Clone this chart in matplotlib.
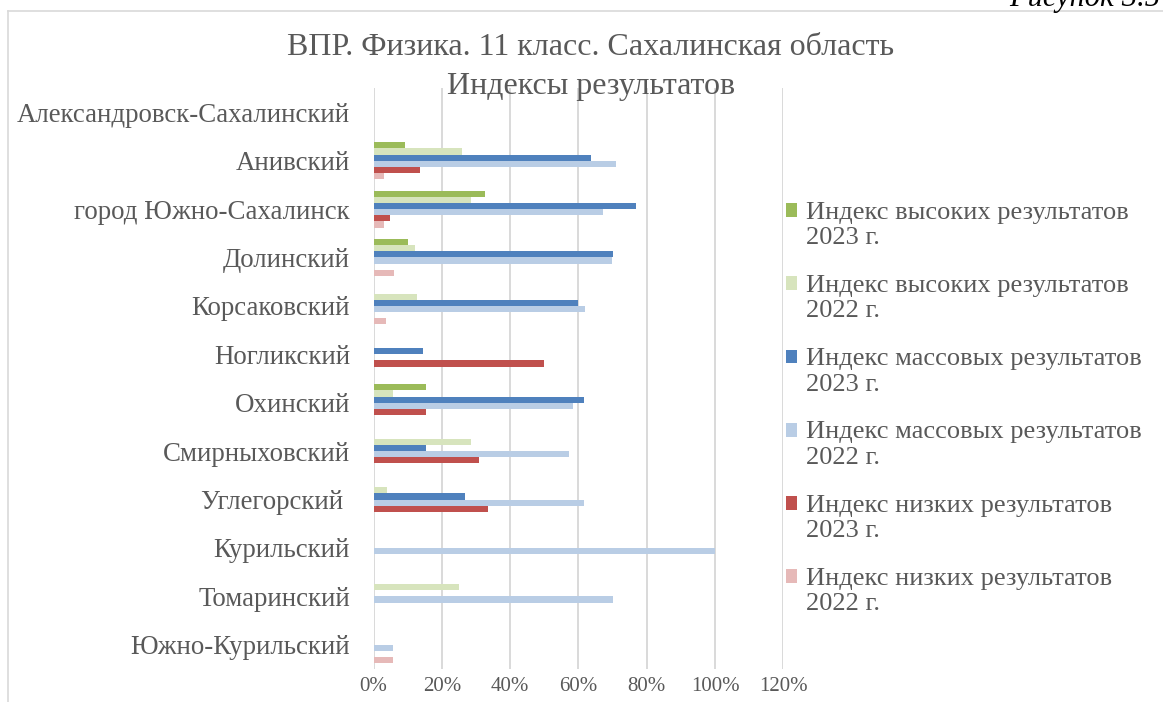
import numpy as np
import matplotlib.pyplot as plt
from matplotlib.lines import Line2D
from matplotlib.patches import Rectangle
from matplotlib.container import BarContainer
from matplotlib.legend_handler import HandlerPatch, update_from_first_child

plt.rcParams['font.family'] = ['Liberation Serif', 'DejaVu Serif']

districts = ["Александровск-Сахалинский", "Анивский", "город Южно-Сахалинск",
             "Долинский", "Корсаковский", "Ногликский", "Охинский",
             "Смирныховский", "Углегорский ", "Курильский", "Томаринский",
             "Южно-Курильский"]

series_names = ["Индекс высоких результатов\n2023 г.",
                "Индекс высоких результатов\n2022 г.",
                "Индекс массовых результатов\n2023 г.",
                "Индекс массовых результатов\n2022 г.",
                "Индекс низких результатов\n2023 г.",
                "Индекс низких результатов\n2022 г."]

# values in %, order follows districts
high_2023 = [0, 9.2, 32.6, 10.0, 0, 0, 15.5, 0, 0, 0, 0, 0]
high_2022 = [0, 25.8, 28.5, 12.0, 12.8, 0, 5.7, 28.5, 3.9, 0, 25.0, 0]
mass_2023 = [0, 63.7, 76.7, 70.0, 60.0, 14.4, 61.5, 15.5, 26.8, 0, 0, 0]
mass_2022 = [0, 70.9, 67.2, 69.7, 61.9, 0, 58.4, 57.2, 61.5, 100.0, 70.0, 5.6]
low_2023 = [0, 13.6, 4.9, 0, 0, 50.0, 15.5, 30.9, 33.4, 0, 0, 0]
low_2022 = [0, 3.2, 3.2, 6.1, 3.7, 0, 0, 0, 0, 0, 0, 5.6]

colors = ["#9BBB59", "#D7E4BD", "#4F81BD", "#B9CDE5", "#C0504D", "#E6B9B8"]
text_color = "#595959"
grid_color = "#D9D9D9"


def square_on_first_line(legend, orig_handle, xdescent, ydescent, width, height, fontsize):
    # legend square sits next to the first line of a two-line label
    return Rectangle((-xdescent, -ydescent + 0.55 * fontsize), width, height)


fig = plt.figure(figsize=(11.63, 7.02), dpi=100)
ax = fig.add_axes([0.3212, 0.047, 0.3524, 0.8276])

all_series = [high_2023, high_2022, mass_2023, mass_2022, low_2023, low_2022]
y = np.arange(len(districts))
bar_h = 0.127
offsets = (np.arange(6) - 2.5) * bar_h
for vals, name, col, off in zip(all_series, series_names, colors, offsets):
    ax.barh(y + off, vals, height=bar_h, color=col, label=name, zorder=3)

ax.set_ylim(len(districts) - 0.5, -0.5)
ax.set_xlim(0, 120)
ax.set_xticks(np.arange(0, 121, 20))
ax.set_xticklabels([f"{v}%" for v in range(0, 121, 20)])
ax.set_yticks(y)
ax.set_yticklabels(districts)
ax.tick_params(axis='x', length=0, pad=5.5, labelsize=15, labelcolor=text_color)
ax.tick_params(axis='y', length=0, pad=17, labelsize=19.4, labelcolor=text_color)
ax.grid(axis='x', color=grid_color, linewidth=1.4, zorder=0)
ax.set_axisbelow(True)
for s in ax.spines.values():
    s.set_visible(False)

handler = HandlerPatch(patch_func=square_on_first_line, update_func=update_from_first_child)
ax.legend(loc='center left', bbox_to_anchor=(0.6555, 0.418), bbox_transform=fig.transFigure,
          frameon=False, fontsize=19, labelcolor=text_color,
          handlelength=0.42, handleheight=0.42, handletextpad=0.34,
          labelspacing=0.98, handler_map={BarContainer: handler})

fig.text(0.508, 0.933, "ВПР. Физика. 11 класс. Сахалинская область",
         ha='center', va='center', fontsize=23, color=text_color)
fig.text(0.508, 0.877, "Индексы результатов",
         ha='center', va='center', fontsize=23, color=text_color)

# frame of the chart area and the caption above it
fig.add_artist(Line2D([0.0069, 0.0069], [0, 0.984], color=grid_color, linewidth=1.2))
fig.add_artist(Line2D([0.0069, 1.0], [0.984, 0.984], color=grid_color, linewidth=1.2))
fig.text(0.868, 0.992, "Рисунок 3.5", ha='left', va='baseline',
         fontsize=22, style='italic', color='black')

fig.savefig("out.png", dpi=100)
